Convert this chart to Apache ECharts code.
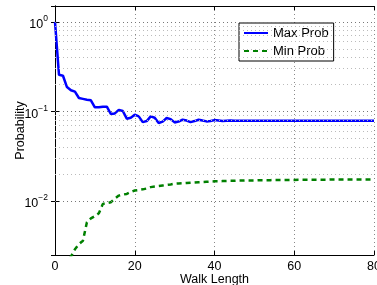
<!DOCTYPE html>
<html lang="en">
<head>
    <meta charset="UTF-8">
    <title>Walk Length vs Probability</title>
    <script src="https://cdn.jsdelivr.net/npm/echarts@6.0.0/dist/echarts.min.js"></script>
    <style>
        html, body { margin: 0; padding: 0; background: #fff; }
        #main { width: 377px; height: 285px; }
    </style>
</head>
<body>
<div id="main"></div>
<script>
    // walk lengths 0..80
    const walkLength = [];
    for (let i = 0; i <= 80; i++) walkLength.push(i);

    // max probability
    const maxProb = [
        1.0, 0.256, 0.250, 0.187, 0.172, 0.166, 0.141, 0.138, 0.135, 0.133,
        0.111, 0.111, 0.113, 0.113, 0.0935, 0.095, 0.104, 0.101, 0.083, 0.085,
        0.092, 0.088, 0.076, 0.078, 0.088, 0.085, 0.0743, 0.077, 0.0844, 0.082,
        0.0754, 0.077, 0.0808, 0.079, 0.076, 0.078, 0.0808, 0.079, 0.0774, 0.078,
        0.080, 0.079, 0.0780, 0.0785, 0.0790, 0.0788, 0.0785, 0.0787, 0.0788, 0.0787,
        0.0787, 0.0787, 0.0787, 0.0787, 0.0787, 0.0787, 0.0787, 0.0787, 0.0787, 0.0787,
        0.0787, 0.0787, 0.0787, 0.0787, 0.0787, 0.0787, 0.0787, 0.0787, 0.0787, 0.0787,
        0.0787, 0.0787, 0.0787, 0.0787, 0.0787, 0.0787, 0.0787, 0.0787, 0.0787, 0.0787,
        0.0787
    ];

    // min probability (first points fall below the axis)
    const minProb = [
        0.0010, 0.0013, 0.0017, 0.0021, 0.0024, 0.0029, 0.0033, 0.0036, 0.0058, 0.0064,
        0.0068, 0.0073, 0.0093, 0.0095, 0.0097, 0.0106, 0.0115, 0.0118, 0.0120, 0.0126,
        0.0131, 0.0133, 0.0135, 0.0138, 0.0143, 0.0145, 0.0147, 0.0149, 0.0151, 0.0153,
        0.0156, 0.0157, 0.0158, 0.0159, 0.0160, 0.0161, 0.0162, 0.0163, 0.0164, 0.0165,
        0.0166, 0.0166, 0.0167, 0.0167, 0.0168, 0.0168, 0.0169, 0.0169, 0.0170, 0.0170,
        0.0170, 0.0171, 0.0171, 0.0171, 0.0171, 0.0172, 0.0172, 0.0172, 0.0172, 0.0172,
        0.0172, 0.0173, 0.0173, 0.0173, 0.0173, 0.0173, 0.0173, 0.0173, 0.0173, 0.0174,
        0.0174, 0.0174, 0.0174, 0.0174, 0.0174, 0.0174, 0.0174, 0.0174, 0.0174, 0.0174,
        0.0174
    ];

    // y grid lines
    const minorGrid = [
        0.003, 0.004, 0.005, 0.006, 0.007, 0.008, 0.009,
        0.02, 0.03, 0.04, 0.05, 0.06, 0.07, 0.08, 0.09,
        0.2, 0.3, 0.4, 0.5, 0.6, 0.7, 0.8, 0.9
    ];
    const majorGrid = [0.01, 0.1, 1];
    const xTicks = [0, 20, 40, 60, 80];

    const chart = echarts.init(document.getElementById('main'));
    const font = 'Liberation Sans, Arial, Helvetica, sans-serif';

    // 10^n labels with a superscript exponent
    function pow10Label(value) {
        const lg = Math.log10(value);
        const e = Math.round(lg);
        if (Math.abs(lg - e) > 1e-6) return '';
        const exp = e < 0 ? '\u2212' + (-e) : String(e);
        return '{b|10}{s|' + exp + '}';
    }

    const toPairs = arr => arr.map((v, i) => [walkLength[i], v]);

    const option = {
        animation: false,
        backgroundColor: '#fff',
        textStyle: { fontFamily: font },
        grid: { left: 55, right: 3, top: 6, bottom: 30, containLabel: false, outerBoundsMode: 'none' },
        legend: {
            data: ['Max Prob', 'Min Prob'],
            orient: 'vertical',
            left: 239,
            top: 23,
            padding: [3, 5, 3, 4],
            itemGap: 4,
            itemWidth: 24,
            itemHeight: 12,
            borderColor: '#000',
            borderWidth: 1,
            borderRadius: 0,
            backgroundColor: '#fff',
            itemStyle: { opacity: 0 },
            textStyle: { fontFamily: font, fontSize: 13, color: '#000', lineHeight: 14 }
        },
        xAxis: [
            {
                type: 'value',
                min: xTicks[0],
                max: xTicks[xTicks.length - 1],
                interval: 20,
                name: 'Walk Length',
                nameLocation: 'middle',
                nameGap: 18,
                nameMoveOverlap: false,
                nameTextStyle: { fontFamily: font, fontSize: 12.5, color: '#000' },
                axisLine: { lineStyle: { color: '#000', width: 1 } },
                axisTick: { inside: true, length: 4, lineStyle: { color: '#000' } },
                axisLabel: { fontFamily: font, fontSize: 12.5, color: '#000', margin: 5 },
                splitLine: { show: true, lineStyle: { color: '#888', type: [1, 3], width: 1 } }
            },
            {
                type: 'value',
                position: 'top',
                min: xTicks[0],
                max: xTicks[xTicks.length - 1],
                interval: 20,
                axisLine: { show: true, lineStyle: { color: '#000', width: 1 } },
                axisTick: { inside: true, length: 4, lineStyle: { color: '#000' } },
                axisLabel: { show: false },
                splitLine: { show: false }
            }
        ],
        yAxis: [
            {
                type: 'log',
                logBase: 10,
                min: 0.0025,
                max: 1.5,
                name: 'Probability',
                nameLocation: 'middle',
                nameGap: 28,
                nameMoveOverlap: false,
                nameTextStyle: { fontFamily: font, fontSize: 12.5, color: '#000' },
                axisLine: { show: true, lineStyle: { color: '#000', width: 1 } },
                axisTick: { inside: true, length: 4, lineStyle: { color: '#000' } },
                axisLabel: {
                    margin: 7,
                    formatter: pow10Label,
                    rich: {
                        b: { fontFamily: font, fontSize: 12.5, color: '#000', padding: [6, 0, 0, 0] },
                        s: { fontFamily: font, fontSize: 8.5, color: '#000', padding: [0, 0, 6, 0] }
                    }
                },
                splitLine: { show: false }
            },
            {
                type: 'log',
                logBase: 10,
                min: 0.0025,
                max: 1.5,
                position: 'right',
                axisLine: { show: true, lineStyle: { color: '#000', width: 1 } },
                axisTick: { inside: true, length: 4, lineStyle: { color: '#000' } },
                axisLabel: { show: false },
                splitLine: { show: false }
            }
        ],
        series: [
            {
                name: 'grid',
                type: 'line',
                data: [],
                silent: true,
                z: 1,
                markLine: {
                    silent: true,
                    symbol: 'none',
                    label: { show: false },
                    animation: false,
                    data: minorGrid.map(v => ({ yAxis: v, lineStyle: { color: '#bbb', type: [1, 3], width: 1 } }))
                        .concat(majorGrid.map(v => ({ yAxis: v, lineStyle: { color: '#777', type: [1, 3], width: 1 } })))
                }
            },
            {
                name: 'Max Prob',
                type: 'line',
                data: toPairs(maxProb),
                symbol: 'none',
                clip: true,
                z: 3,
                lineStyle: { color: '#0000ff', width: 2.5 },
                itemStyle: { color: '#0000ff' }
            },
            {
                name: 'Min Prob',
                type: 'line',
                data: toPairs(minProb),
                symbol: 'none',
                clip: true,
                z: 3,
                lineStyle: { color: '#008000', width: 2.5, type: [5, 4] },
                itemStyle: { color: '#008000' }
            }
        ]
    };

    chart.setOption(option);
</script>
</body>
</html>
